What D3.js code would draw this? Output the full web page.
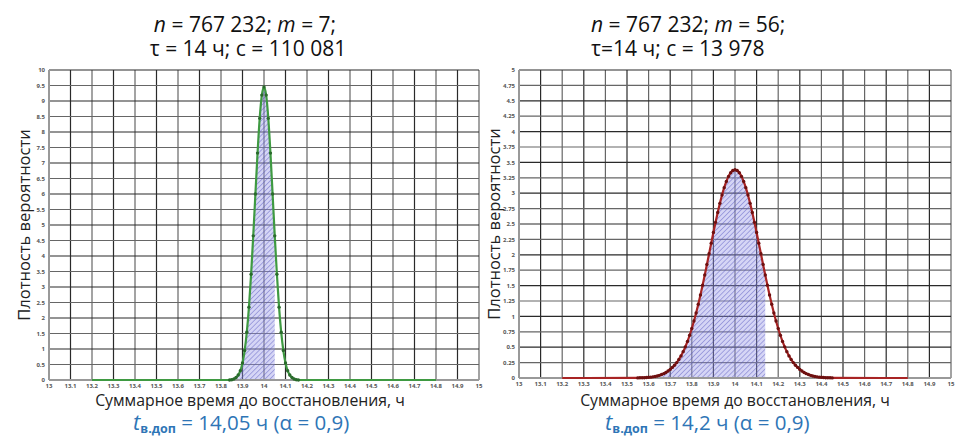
<!DOCTYPE html>
<html>
<head>
<meta charset="utf-8">
<script src="https://cdn.jsdelivr.net/npm/d3@7"></script>
<style>
  body { margin: 0; background: #fff; }
  text { font-family: "Open Sans", "DejaVu Sans", sans-serif; }
</style>
</head>
<body>
<div id="chart"></div>
<script>
// ---- data ----
var xTicks = [13, 13.1, 13.2, 13.3, 13.4, 13.5, 13.6, 13.7, 13.8, 13.9, 14,
              14.1, 14.2, 14.3, 14.4, 14.5, 14.6, 14.7, 14.8, 14.9, 15];
var leftYTicks = [0, 0.5, 1, 1.5, 2, 2.5, 3, 3.5, 4, 4.5, 5, 5.5, 6, 6.5, 7, 7.5, 8, 8.5, 9, 9.5, 10];
var rightYTicks = [0, 0.25, 0.5, 0.75, 1, 1.25, 1.5, 1.75, 2, 2.25, 2.5, 2.75, 3,
                   3.25, 3.5, 3.75, 4, 4.25, 4.5, 4.75, 5];

// m = 7 : points every 0.01 h from 13.84 to 14.16
var leftStart = 13.84;
var leftValues = [0, 0.01, 0.03, 0.08, 0.16, 0.30, 0.55, 0.95, 1.54, 2.35, 3.41, 4.65, 6.00, 7.32, 8.44, 9.19,
                  9.45,
                  9.19, 8.44, 7.32, 6.00, 4.65, 3.41, 2.35, 1.54, 0.95, 0.55, 0.30, 0.16, 0.08, 0.03, 0.01, 0];

// m = 56 : points every 0.01 h from 13.55 to 14.45
var rightStart = 13.55;
var rightValues = [0.002, 0.003, 0.004, 0.005, 0.007, 0.011, 0.014, 0.019, 0.025, 0.033,
                   0.043, 0.056, 0.071, 0.090, 0.113, 0.140, 0.172, 0.208, 0.250, 0.300,
                   0.359, 0.428, 0.506, 0.594, 0.694, 0.804, 0.925, 1.056, 1.198, 1.348,
                   1.507, 1.672, 1.843, 2.016, 2.189, 2.361, 2.527, 2.686, 2.835, 2.970,
                   3.090, 3.191, 3.273, 3.332, 3.368,
                   3.380,
                   3.368, 3.332, 3.273, 3.191, 3.090, 2.970, 2.835, 2.686, 2.527, 2.361,
                   2.189, 2.016, 1.843, 1.672, 1.507, 1.348, 1.198, 1.056, 0.925, 0.804,
                   0.694, 0.594, 0.506, 0.428, 0.359, 0.300, 0.250, 0.208, 0.172, 0.140,
                   0.113, 0.090, 0.071, 0.056, 0.043, 0.033, 0.025, 0.019, 0.014, 0.011,
                   0.007, 0.005, 0.004, 0.003, 0.002];

var lineStart = 13.2, lineEnd = 14.8;   // flat part of both curves
var leftLimit = 14.05, rightLimit = 14.14; // end of hatched area

var svg = d3.select('#chart').append('svg')
  .attr('width', 955)
  .attr('height', 436);

var defs = svg.append('defs');
var pat = defs.append('pattern')
  .attr('id', 'hatch')
  .attr('patternUnits', 'userSpaceOnUse')
  .attr('width', 3.5)
  .attr('height', 3.5)
  .attr('patternTransform', 'rotate(45)');
pat.append('rect').attr('width', 3.5).attr('height', 3.5).attr('fill', 'rgba(150,150,230,0.4)');
pat.append('line').attr('x1', 0).attr('y1', 0).attr('x2', 0).attr('y2', 3.5)
  .attr('stroke', 'rgba(80,80,190,0.8)').attr('stroke-width', 1);

function toPoints(start, values) {
  return values.map(function(v, i) { return { x: +(start + i * 0.01).toFixed(2), y: v }; });
}

function drawPanel(cfg) {
  var g = svg.append('g');
  var x = d3.scaleLinear().domain([13, 15]).range([cfg.x0, cfg.x1]);
  var y = d3.scaleLinear().domain([0, cfg.yMax]).range([cfg.yb, cfg.yt]);

  // grid
  g.selectAll('.vg').data(xTicks.slice(1)).enter().append('line')
    .attr('x1', function(d) { return x(d); }).attr('x2', function(d) { return x(d); })
    .attr('y1', cfg.yb).attr('y2', cfg.yt)
    .attr('stroke', function(d, i) { return i % 2 ? '#666' : '#2a2a2a'; })
    .attr('stroke-width', 1.2);
  g.selectAll('.hg').data(cfg.yTicks.slice(1)).enter().append('line')
    .attr('x1', cfg.x0).attr('x2', cfg.x1)
    .attr('y1', function(d) { return y(d); }).attr('y2', function(d) { return y(d); })
    .attr('stroke', function(d, i) { return i % 2 ? '#2a2a2a' : '#666'; })
    .attr('stroke-width', 1.2);

  var pts = toPoints(cfg.start, cfg.values);
  var full = [{ x: lineStart, y: 0 }].concat(pts, [{ x: lineEnd, y: 0 }]);

  // hatched area up to the limit
  var shaded = pts.filter(function(p) { return p.x <= cfg.limit + 1e-9; });
  var last = shaded[shaded.length - 1];
  var area = d3.area()
    .x(function(d) { return x(d.x); })
    .y0(y(0))
    .y1(function(d) { return y(d.y); })
    .curve(d3.curveMonotoneX);
  var nextIdx = shaded.length;
  var tail = shaded.slice();
  if (last.x < cfg.limit && pts[nextIdx]) {
    var p0 = last, p1 = pts[nextIdx];
    var t = (cfg.limit - p0.x) / (p1.x - p0.x);
    tail.push({ x: cfg.limit, y: p0.y + t * (p1.y - p0.y) });
  }
  g.append('path').datum(tail).attr('d', area).attr('fill', 'url(#hatch)');

  // axes frame
  g.append('line').attr('x1', cfg.x0).attr('x2', cfg.x0).attr('y1', cfg.yb).attr('y2', cfg.yt)
    .attr('stroke', '#999').attr('stroke-width', 2);
  g.append('line').attr('x1', cfg.x0).attr('x2', cfg.x1).attr('y1', cfg.yb).attr('y2', cfg.yb)
    .attr('stroke', '#999').attr('stroke-width', 2);

  // curve
  var line = d3.line()
    .x(function(d) { return x(d.x); })
    .y(function(d) { return y(d.y); })
    .curve(d3.curveMonotoneX);
  g.append('path').datum(full).attr('d', line)
    .attr('fill', 'none').attr('stroke', cfg.color).attr('stroke-width', 2.2);
  g.selectAll('.dot').data(pts).enter().append('circle')
    .attr('cx', function(d) { return x(d.x); })
    .attr('cy', function(d) { return y(d.y); })
    .attr('r', 1.7)
    .attr('fill', cfg.dot);

  // tick labels
  g.selectAll('.xt').data(xTicks).enter().append('text')
    .attr('x', function(d) { return x(d); })
    .attr('y', cfg.yb + 8)
    .attr('text-anchor', 'middle')
    .attr('font-size', 6).attr('font-weight', 'bold').attr('fill', '#555')
    .text(function(d) { return d; });
  g.selectAll('.yt').data(cfg.yTicks).enter().append('text')
    .attr('x', cfg.x0 - 4)
    .attr('y', function(d) { return y(d) + 2.2; })
    .attr('text-anchor', 'end')
    .attr('font-size', 6).attr('font-weight', 'bold').attr('fill', '#555')
    .text(function(d) { return d; });

  // axis titles
  svg.append('text')
    .attr('transform', 'translate(' + cfg.yLabelX + ',' + ((cfg.yt + cfg.yb) / 2) + ') rotate(-90)')
    .attr('text-anchor', 'middle').attr('font-size', 16.5).attr('fill', '#222')
    .text('Плотность вероятности');
  svg.append('text')
    .attr('x', cfg.xLabelX).attr('y', 406)
    .attr('text-anchor', 'middle').attr('font-size', 15.8).attr('fill', '#222')
    .text('Суммарное время до восстановления, ч');
}

drawPanel({ x0: 49, x1: 479, yt: 70, yb: 380, yMax: 10, yTicks: leftYTicks,
            start: leftStart, values: leftValues, limit: leftLimit,
            color: '#3f9a42', dot: '#2a6a2c', yLabelX: 30, xLabelX: 250 });
drawPanel({ x0: 519, x1: 951, yt: 70, yb: 378, yMax: 5, yTicks: rightYTicks,
            start: rightStart, values: rightValues, limit: rightLimit,
            color: '#a82424', dot: '#6e1010', yLabelX: 500, xLabelX: 735 });

// titles
function title(xPos, anchor, y, parts) {
  var t = svg.append('text').attr('x', xPos).attr('y', y)
    .attr('text-anchor', anchor).attr('font-size', 21).attr('fill', '#111');
  parts.forEach(function(p) {
    t.append('tspan').attr('font-style', p[1] ? 'italic' : 'normal').text(p[0]);
  });
}
title(245, 'middle', 32, [['n', true], [' = 767 232; ', false], ['m', true], [' = 7;', false]]);
title(248, 'middle', 56, [['τ = 14 ч; c = 110 081', false]]);
title(591, 'start', 32, [['n', true], [' = 767 232; ', false], ['m', true], [' = 56;', false]]);
title(591, 'start', 56, [['τ=14 ч; c = 13 978', false]]);

// result lines
function result(xPos, txt) {
  var t = svg.append('text').attr('x', xPos).attr('y', 430)
    .attr('font-size', 20.5).attr('fill', '#2e75b6');
  t.append('tspan').attr('font-style', 'italic').attr('font-size', 22).text('t');
  t.append('tspan').attr('font-size', 12.5).attr('font-weight', 'bold').attr('dy', 3).text('в.доп');
  t.append('tspan').attr('dy', -3).text(txt);
}
result(133, ' = 14,05 ч (α = 0,9)');
result(605, ' = 14,2 ч (α = 0,9)');
</script>
</body>
</html>
